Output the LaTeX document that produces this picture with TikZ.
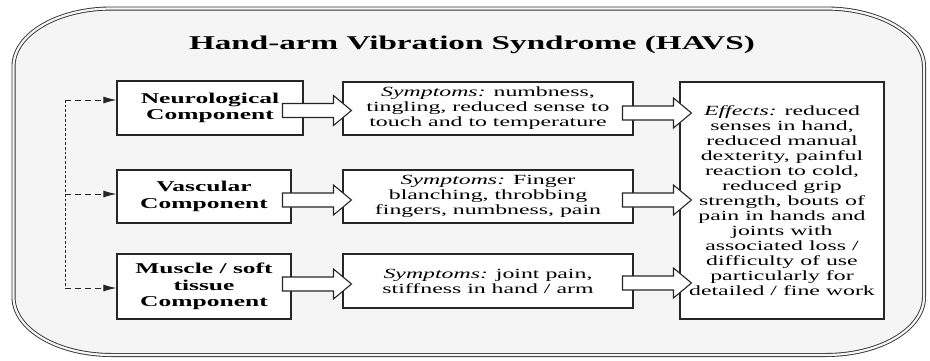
\documentclass[tikz,border=0pt]{standalone}
\usepackage{fontspec}
\setmainfont{Liberation Serif}[FakeStretch=1.7]
\usetikzlibrary{arrows.meta}

\tikzset{
  frame/.style={draw=black!80, line width=0.9pt, double=gray!8, double distance=2.2pt, fill=gray!8},
  compbox/.style={draw=black!85, line width=1.1pt, fill=white, align=center,
    font=\fontsize{15}{16.7}\selectfont\bfseries},
  textbox/.style={draw=black!85, line width=1.1pt, fill=white, align=center,
    font=\fontsize{14}{15}\selectfont},
  blockarr/.style={draw=black!85, line width=1.1pt, fill=white},
  busline/.style={black!85, line width=1pt, dash pattern=on 2.7pt off 2pt},
  feed/.style={black!85, line width=1pt, dash pattern=on 6pt off 4pt, -{Latex[length=13pt,width=7pt]}},
  pics/blockarrow/.style={code={
    \draw[blockarr] (0,0) -- (-18,-15) -- (-18,-7) -- (-69,-7) -- (-69,7) -- (-18,7) -- (-18,15) -- cycle;}}
}

\begin{document}
\begin{tikzpicture}[x=1pt, y=-1pt]
  \useasboundingbox (0,0) rectangle (930,360);

  % Outer frame with elliptic corners
  \draw[frame] (111.5,8.5) -- (826,8.5)
    arc[start angle=-90, end angle=0, x radius=98, y radius=58] -- (924,297)
    arc[start angle=0, end angle=90, x radius=98, y radius=58] -- (111.5,355)
    arc[start angle=90, end angle=180, x radius=98, y radius=58] -- (13.5,66.5)
    arc[start angle=180, end angle=270, x radius=98, y radius=58] -- cycle;

  \node[font=\fontsize{19.5}{22}\selectfont\bfseries] (title) at (472,45) {Hand-arm Vibration Syndrome (HAVS)};

  % Components
  \node[compbox, minimum width=186pt, minimum height=54pt] (neuro) at (210,108) {Neurological\\Component};
  \node[compbox, minimum width=174pt, minimum height=53pt] (vasc) at (204,196.5) {Vascular\\Component};
  \node[compbox, minimum width=174pt, minimum height=65pt] (musc) at (204,286.5) {Muscle / soft\\tissue\\Component};

  % Symptoms
  \node[textbox, minimum width=290pt, minimum height=53pt] (sym1) at (488,108.5)
    {\textit{Symptoms:} numbness,\\tingling, reduced sense to\\touch and to temperature};
  \node[textbox, minimum width=290pt, minimum height=53pt] (sym2) at (488,196.5)
    {\textit{Symptoms:} Finger\\blanching, throbbing\\fingers, numbness, pain};
  \node[textbox, minimum width=290pt, minimum height=54pt] (sym3) at (488,281)
    {\textit{Symptoms:} joint pain,\\stiffness in hand / arm};

  % Effects
  \node[textbox, minimum width=204pt, minimum height=237pt] (eff) at (782,200.5)
    {\textit{Effects:} reduced\\senses in hand,\\reduced manual\\dexterity, painful\\reaction to cold,\\reduced grip\\strength, bouts of\\pain in hands and\\joints with\\associated loss /\\difficulty of use\\particularly for\\detailed / fine work};

  % Block arrows
  \pic at ([xshift=9,yshift=-2]sym1.west) {blockarrow};
  \pic at ([xshift=9,yshift=-3.5]sym2.west) {blockarrow};
  \pic at ([xshift=9,yshift=-3]sym3.west) {blockarrow};
  \pic at ([xshift=12,yshift=-4.5]eff.west |- sym1.east) {blockarrow};
  \pic at ([xshift=12,yshift=-3.5]eff.west |- sym2.east) {blockarrow};
  \pic at ([xshift=12,yshift=-2]eff.west |- sym3.east) {blockarrow};

  % Dashed feed lines
  \coordinate (bustop) at (65,100);
  \coordinate (busbot) at (65,288);
  \draw[busline] (bustop) -- (busbot);
  \draw[feed] (bustop) -- ([yshift=8]neuro.west);
  \draw[feed] ([yshift=2.5]vasc.west -| bustop) -- ([yshift=2.5]vasc.west);
  \draw[feed] (busbot) -- (busbot -| musc.west);
\end{tikzpicture}
\end{document}
